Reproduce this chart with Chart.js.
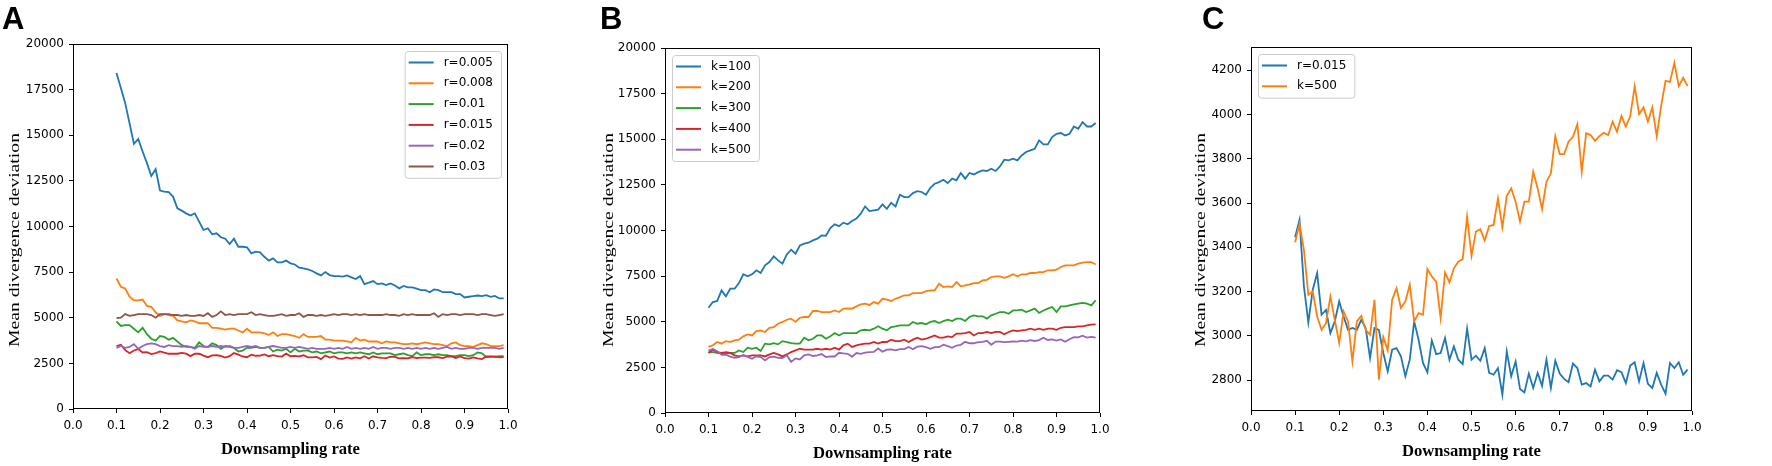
<!DOCTYPE html>
<html>
<head>
<meta charset="utf-8">
<title>Mean divergence deviation vs downsampling rate</title>
<script src="https://cdn.jsdelivr.net/npm/chart.js@4.4.1/dist/chart.umd.min.js"></script>
<style>
    html, body { margin: 0; padding: 0; background: #fff; }
    #wrap { position: relative; width: 1772px; height: 466px; overflow: hidden; }
    canvas { position: absolute; top: 0; }
</style>
</head>
<body>
<div id="wrap">
    <canvas id="chartA" width="560" height="466" style="left:0px"></canvas>
    <canvas id="chartB" width="560" height="466" style="left:580px"></canvas>
    <canvas id="chartC" width="602" height="466" style="left:1170px"></canvas>
</div>
<script>
// x values (downsampling rate)
const rates = [
    0.10, 0.11, 0.12, 0.13, 0.14, 0.15, 0.16, 0.17, 0.18, 0.19,
    0.20, 0.21, 0.22, 0.23, 0.24, 0.25, 0.26, 0.27, 0.28, 0.29,
    0.30, 0.31, 0.32, 0.33, 0.34, 0.35, 0.36, 0.37, 0.38, 0.39,
    0.40, 0.41, 0.42, 0.43, 0.44, 0.45, 0.46, 0.47, 0.48, 0.49,
    0.50, 0.51, 0.52, 0.53, 0.54, 0.55, 0.56, 0.57, 0.58, 0.59,
    0.60, 0.61, 0.62, 0.63, 0.64, 0.65, 0.66, 0.67, 0.68, 0.69,
    0.70, 0.71, 0.72, 0.73, 0.74, 0.75, 0.76, 0.77, 0.78, 0.79,
    0.80, 0.81, 0.82, 0.83, 0.84, 0.85, 0.86, 0.87, 0.88, 0.89,
    0.90, 0.91, 0.92, 0.93, 0.94, 0.95, 0.96, 0.97, 0.98, 0.99
];

// tick labels
const xTicks = [0.0, 0.1, 0.2, 0.3, 0.4, 0.5, 0.6, 0.7, 0.8, 0.9, 1.0];
const yTicksAB = [0, 2500, 5000, 7500, 10000, 12500, 15000, 17500, 20000];
const yTicksC = [2800, 3000, 3200, 3400, 3600, 3800, 4000, 4200];

// panel A series
const r005 = [
    18410, 17590, 16760, 15660, 14530, 14790, 14110, 13470, 12770, 13140,
    11970, 11910, 11880, 11640, 11000, 10870, 10720, 10600, 10720, 10270,
    9810, 9900, 9570, 9630, 9410, 9330, 9040, 9330, 8890, 8890,
    8860, 8530, 8620, 8580, 8340, 8130, 8250, 8030, 8030, 8130,
    7980, 7920, 7740, 7700, 7650, 7560, 7430, 7320, 7500, 7340,
    7280, 7280, 7250, 7320, 7210, 7120, 7280, 6840, 6920, 7010,
    6840, 6880, 6790, 6880, 6770, 6610, 6740, 6660, 6660, 6590,
    6510, 6510, 6400, 6550, 6510, 6400, 6400, 6400, 6300, 6300,
    6110, 6150, 6190, 6220, 6190, 6240, 6150, 6200, 6060, 6060
];
const r008 = [
    7150, 6700, 6600, 6150, 5950, 5950, 6000, 5650, 5600, 5300,
    5100, 5200, 5150, 5100, 4850, 4800, 4750, 4850, 4800, 4700,
    4700, 4700, 4450, 4450, 4400, 4350, 4400, 4400, 4300, 4200,
    4400, 4200, 4200, 4200, 4150, 4050, 4200, 4000, 4100, 4100,
    4050, 4000, 3900, 4100, 3950, 3950, 3950, 4000, 3800, 3800,
    3750, 3750, 3750, 3700, 3650, 3900, 3750, 3800, 3700, 3700,
    3700, 3600, 3700, 3650, 3650, 3600, 3550, 3550, 3600, 3550,
    3600, 3650, 3600, 3550, 3550, 3500, 3450, 3600, 3650, 3500,
    3450, 3450, 3400, 3500, 3600, 3550, 3450, 3450, 3450, 3500
];
const r010 = [
    4800, 4550, 4600, 4600, 4400, 4200, 4450, 4100, 3850, 3750,
    4000, 3950, 3800, 3900, 3700, 3500, 3400, 3400, 3350, 3650,
    3450, 3400, 3600, 3500, 3300, 3450, 3400, 3350, 3150, 3200,
    3350, 3350, 3400, 3350, 3350, 3400, 3150, 3250, 3200, 3300,
    3100, 3300, 3150, 3200, 3200, 3100, 3150, 3050, 3100, 3150,
    3050, 3100, 3100, 3050, 3100, 3050, 3100, 3050, 3000, 3100,
    3000, 3050, 3050, 3050, 2950, 3000, 3050, 2950, 2900, 3100,
    2950, 3000, 3000, 2950, 3000, 2950, 2950, 2900, 2900, 2950,
    2950, 2900, 2950, 3100, 3050, 2850, 2900, 2850, 2900, 2900
];
// r=0.015 is also the blue line of panel C
const r015 = [
    3445, 3523, 3223, 3060, 3208, 3283, 3095, 3117, 3012, 3065,
    3155, 3087, 3027, 3035, 3027, 3072, 3035, 2899, 3035, 3027,
    2922, 2839, 2937, 2944, 2907, 2817, 2892, 3065, 2982, 2877,
    2835, 2979, 2917, 2922, 2990, 2892, 2952, 2892, 2872, 3032,
    2892, 2910, 2887, 2944, 2832, 2824, 2854, 2734, 2929, 2817,
    2884, 2759, 2744, 2829, 2764, 2832, 2774, 2892, 2764, 2887,
    2829, 2805, 2790, 2874, 2854, 2779, 2786, 2771, 2847, 2794,
    2820, 2820, 2802, 2844, 2835, 2786, 2865, 2880, 2794, 2877,
    2783, 2764, 2832, 2779, 2738, 2877, 2854, 2880, 2824, 2847
];
const r020 = [
    3350, 3450, 3350, 3400, 3550, 3300, 3450, 3550, 3600, 3550,
    3450, 3400, 3500, 3450, 3450, 3400, 3450, 3400, 3300, 3450,
    3400, 3400, 3450, 3400, 3450, 3400, 3450, 3350, 3350, 3400,
    3450, 3400, 3450, 3350, 3350, 3400, 3450, 3400, 3350, 3350,
    3400, 3350, 3400, 3350, 3300, 3350, 3300, 3300, 3300, 3350,
    3300, 3350, 3300, 3400, 3300, 3350, 3300, 3350, 3300, 3400,
    3300, 3350, 3350, 3300, 3350, 3350, 3300, 3350, 3300, 3350,
    3300, 3350, 3300, 3350, 3300, 3350, 3400, 3300, 3350, 3300,
    3300, 3350, 3350, 3300, 3350, 3350, 3350, 3350, 3300, 3350
];
const r030 = [
    4980, 5000, 5200, 5100, 5150, 5200, 5200, 5200, 5150, 5000,
    5200, 5200, 5200, 5150, 5150, 5100, 5150, 5100, 5100, 5150,
    5100, 5250, 5050, 5150, 5350, 5150, 5200, 5150, 5200, 5200,
    5200, 5300, 5150, 5200, 5150, 5100, 5100, 5150, 5200, 5100,
    5150, 5150, 5250, 5050, 5150, 5150, 5100, 5150, 5100, 5150,
    5200, 5150, 5200, 5200, 5150, 5200, 5150, 5200, 5150, 5150,
    5150, 5150, 5200, 5150, 5150, 5100, 5200, 5150, 5200, 5150,
    5150, 5150, 5150, 5250, 5050, 5200, 5150, 5200, 5200, 5150,
    5200, 5200, 5200, 5150, 5200, 5200, 5150, 5100, 5150, 5200
];

// panel B series
const k100 = [
    5770, 6080, 6140, 6720, 6390, 6810, 6810, 7120, 7600, 7490,
    7600, 7820, 7670, 8090, 8270, 8580, 8360, 8180, 8690, 8950,
    8730, 9180, 9280, 9330, 9460, 9550, 9730, 9710, 10130, 10340,
    10240, 10430, 10340, 10520, 10650, 10920, 11320, 11060, 11100, 11140,
    11430, 11190, 11520, 11320, 11960, 11830, 11830, 12050, 12160, 12110,
    11960, 12340, 12560, 12650, 12780, 12600, 12840, 12750, 13150, 12840,
    13150, 13070, 13200, 13290, 13260, 13380, 13260, 13510, 13880, 13840,
    13930, 13840, 14110, 14300, 14390, 14480, 14940, 14720, 14720, 15120,
    15300, 15340, 15210, 15300, 15700, 15570, 15940, 15700, 15700, 15890
];
const k200 = [
    3620, 3710, 3890, 3800, 3940, 3890, 3980, 4020, 4200, 4310,
    4250, 4490, 4530, 4440, 4670, 4710, 4890, 4990, 5110, 5170,
    4990, 5220, 5260, 5260, 5590, 5590, 5530, 5530, 5530, 5620,
    5530, 5720, 5730, 5720, 5840, 5950, 5990, 5920, 6080, 5990,
    6260, 6210, 6140, 6260, 6350, 6450, 6450, 6570, 6570, 6570,
    6680, 6720, 6720, 7080, 6900, 6940, 6900, 7170, 6940, 6990,
    7050, 7120, 7120, 7270, 7300, 7450, 7490, 7490, 7410, 7490,
    7600, 7490, 7600, 7600, 7670, 7670, 7720, 7720, 7820, 7820,
    7850, 8000, 8090, 8090, 8090, 8180, 8240, 8270, 8270, 8140
];
const k300 = [
    3340, 3340, 3290, 3250, 3250, 3290, 3290, 3430, 3340, 3580,
    3520, 3580, 3400, 3800, 3760, 3830, 3760, 3940, 3890, 3830,
    3800, 3800, 4130, 3980, 4070, 4250, 4250, 4070, 4200, 4380,
    4250, 4380, 4380, 4380, 4380, 4530, 4560, 4530, 4620, 4750,
    4620, 4530, 4710, 4750, 4800, 4800, 4800, 4990, 4890, 4930,
    4860, 4990, 5040, 4930, 5040, 5110, 5040, 5170, 5170, 5040,
    5260, 5350, 5300, 5300, 5170, 5350, 5440, 5530, 5530, 5440,
    5620, 5620, 5660, 5530, 5620, 5720, 5480, 5620, 5720, 5810,
    5530, 5840, 5840, 5900, 5950, 5990, 6030, 5990, 5900, 6170
];
const k400 = [
    3290, 3470, 3340, 3290, 3340, 3290, 3160, 3100, 3160, 3100,
    3160, 3160, 3160, 3100, 3210, 3290, 3210, 3100, 3210, 3340,
    3430, 3520, 3470, 3470, 3470, 3520, 3470, 3520, 3470, 3580,
    3470, 3710, 3800, 3620, 3710, 3760, 3800, 3800, 3890, 3800,
    3890, 3890, 4020, 3940, 3940, 4020, 3890, 4020, 4130, 4020,
    4070, 4160, 4250, 4130, 4130, 4200, 4160, 4350, 4350, 4380,
    4440, 4250, 4380, 4380, 4440, 4380, 4440, 4440, 4310, 4440,
    4530, 4490, 4530, 4560, 4620, 4560, 4620, 4560, 4620, 4620,
    4560, 4670, 4710, 4710, 4710, 4750, 4750, 4800, 4840, 4860
];
// k=500 is also the orange line of panel C
const k500 = [
    3423, 3505, 3388, 3185, 3200, 3087, 3027, 3057, 3177, 3072,
    2967, 3110, 3065, 2884, 3065, 3090, 3027, 3005, 3162, 2802,
    2994, 2934, 3162, 3215, 3125, 3155, 3230, 3065, 3102, 3095,
    3301, 3268, 3245, 3080, 3286, 3241, 3305, 3335, 3346, 3538,
    3361, 3471, 3481, 3430, 3496, 3501, 3621, 3490, 3632, 3666,
    3606, 3516, 3606, 3606, 3741, 3666, 3572, 3696, 3734, 3902,
    3821, 3821, 3877, 3899, 3956, 3741, 3915, 3907, 3881, 3902,
    3917, 3907, 3967, 3922, 3993, 3945, 3993, 4128, 4002, 4032,
    3967, 4032, 3902, 4038, 4152, 4147, 4233, 4128, 4166, 4128
];

const colors = ['#1f77b4', '#ff7f0e', '#2ca02c', '#d62728', '#9467bd', '#8c564b'];

Chart.defaults.font.family = '"DejaVu Sans", sans-serif';
Chart.defaults.font.size = 12;
Chart.defaults.color = '#000';

function series(labels, lists) {
    return lists.map(function (vals, i) {
        return {
            label: labels[i],
            data: vals.map(function (v, j) { return { x: rates[j], y: v }; }),
            borderColor: colors[i],
            backgroundColor: colors[i],
            borderWidth: 1.8,
            pointRadius: 0,
            tension: 0,
            fill: false,
            order: -i   // later series on top, like matplotlib
        };
    });
}

// black box around the plot area
const framePlugin = {
    id: 'frame',
    afterDatasetsDraw(chart) {
        const a = chart.chartArea, ctx = chart.ctx;
        ctx.save();
        ctx.strokeStyle = '#000';
        ctx.lineWidth = 1;
        ctx.strokeRect(Math.round(a.left) + 0.5, Math.round(a.top) + 0.5,
            Math.round(a.right - a.left) - 1, Math.round(a.bottom - a.top) - 1);
        ctx.restore();
    }
};

// legend box inside the axes
const boxLegend = {
    id: 'boxLegend',
    afterDraw(chart, args, opts) {
        const a = chart.chartArea, ctx = chart.ctx;
        const items = chart.data.datasets;
        ctx.save();
        ctx.font = '12px "DejaVu Sans"';
        const tw = Math.max.apply(null, items.map(function (d) { return ctx.measureText(d.label).width; }));
        const rowH = 20.8;
        const w = 39 + tw + 8, h = items.length * rowH + 2;
        const x = opts.side === 'right' ? a.right - 7 - w : a.left + 7;
        const y = a.top + 7;
        ctx.beginPath();
        ctx.roundRect(x + 0.5, y + 0.5, w, h, 3);
        ctx.fillStyle = 'rgba(255,255,255,0.8)';
        ctx.fill();
        ctx.strokeStyle = '#cccccc';
        ctx.lineWidth = 1;
        ctx.stroke();
        items.forEach(function (d, i) {
            const cy = y + 11.5 + i * rowH;
            ctx.beginPath();
            ctx.moveTo(x + 4, cy);
            ctx.lineTo(x + 29, cy);
            ctx.strokeStyle = d.borderColor;
            ctx.lineWidth = 2;
            ctx.stroke();
            ctx.fillStyle = '#000';
            ctx.textBaseline = 'middle';
            ctx.textAlign = 'left';
            ctx.fillText(d.label, x + 39, cy);
        });
        ctx.restore();
    }
};

// panel letter and axis titles
const panelText = {
    id: 'panelText',
    afterDraw(chart, args, opts) {
        const a = chart.chartArea, ctx = chart.ctx;
        ctx.save();
        ctx.fillStyle = '#000';
        ctx.font = 'bold 31px "Liberation Sans"';
        ctx.textAlign = 'left';
        ctx.textBaseline = 'alphabetic';
        ctx.fillText(opts.letter, opts.letterX, 29);

        // y title, stretched to the length in the figure
        ctx.save();
        ctx.translate(opts.ylabelX, 240);
        ctx.rotate(-Math.PI / 2);
        ctx.font = '15px "Liberation Serif"';
        let w = ctx.measureText('Mean divergence deviation').width;
        ctx.scale(214 / w, 1);
        ctx.textAlign = 'center';
        ctx.textBaseline = 'middle';
        ctx.fillText('Mean divergence deviation', 0, 0);
        ctx.restore();

        // x title
        ctx.save();
        ctx.translate((a.left + a.right) / 2, a.bottom + 41);
        ctx.font = 'bold 16px "Liberation Serif"';
        w = ctx.measureText('Downsampling rate').width;
        ctx.scale(139 / w, 1);
        ctx.textAlign = 'center';
        ctx.textBaseline = 'middle';
        ctx.fillText('Downsampling rate', 0, 0);
        ctx.restore();
        ctx.restore();
    }
};

function makeChart(id, datasets, cfg) {
    const ctx = document.getElementById(id).getContext('2d');
    return new Chart(ctx, {
        type: 'line',
        data: { datasets: datasets },
        options: {
            responsive: false,
            animation: false,
            devicePixelRatio: 1,
            layout: { padding: { left: 0, top: cfg.top, right: cfg.right, bottom: 0 } },
            plugins: {
                legend: { display: false },
                tooltip: { enabled: false },
                boxLegend: { side: cfg.legendSide },
                panelText: cfg.text
            },
            scales: {
                x: {
                    type: 'linear',
                    bounds: 'data',
                    min: 0,
                    max: 1,
                    border: { display: false },
                    grid: { drawOnChartArea: false, drawTicks: true, tickLength: 4, color: '#000' },
                    ticks: {
                        padding: 6, maxRotation: 0, autoSkip: false, color: '#000',
                        callback: function (v) { return Number(v).toFixed(1); }
                    },
                    afterBuildTicks: function (s) { s.ticks = xTicks.map(function (v) { return { value: v }; }); },
                    afterFit: function (s) { s.height = cfg.xHeight; }
                },
                y: {
                    type: 'linear',
                    bounds: 'data',
                    min: cfg.yMin,
                    max: cfg.yMax,
                    border: { display: false },
                    grid: { drawOnChartArea: false, drawTicks: true, tickLength: 4, color: '#000' },
                    ticks: {
                        padding: 5, autoSkip: false, color: '#000',
                        callback: function (v) { return String(v); }
                    },
                    afterBuildTicks: function (s) { s.ticks = cfg.yTicks.map(function (v) { return { value: v }; }); },
                    afterFit: function (s) { s.width = cfg.yWidth; }
                }
            }
        },
        plugins: [framePlugin, boxLegend, panelText]
    });
}

makeChart('chartA',
    series(['r=0.005', 'r=0.008', 'r=0.01', 'r=0.015', 'r=0.02', 'r=0.03'],
        [r005, r008, r010, r015, r020, r030]),
    {
        top: 44, right: 52, xHeight: 57, yWidth: 73,
        yMin: 0, yMax: 20000, yTicks: yTicksAB, legendSide: 'right',
        text: { letter: 'A', letterX: 2, ylabelX: 15 }
    });

makeChart('chartB',
    series(['k=100', 'k=200', 'k=300', 'k=400', 'k=500'],
        [k100, k200, k300, k400, k500]),
    {
        top: 48, right: 40, xHeight: 53, yWidth: 85,
        yMin: 0, yMax: 20000, yTicks: yTicksAB, legendSide: 'left',
        text: { letter: 'B', letterX: 20, ylabelX: 29 }
    });

makeChart('chartC',
    series(['r=0.015', 'k=500'], [r015, k500]),
    {
        top: 47, right: 80, xHeight: 55, yWidth: 81,
        yMin: 2660, yMax: 4305, yTicks: yTicksC, legendSide: 'left',
        text: { letter: 'C', letterX: 32, ylabelX: 31 }
    });
</script>
</body>
</html>
